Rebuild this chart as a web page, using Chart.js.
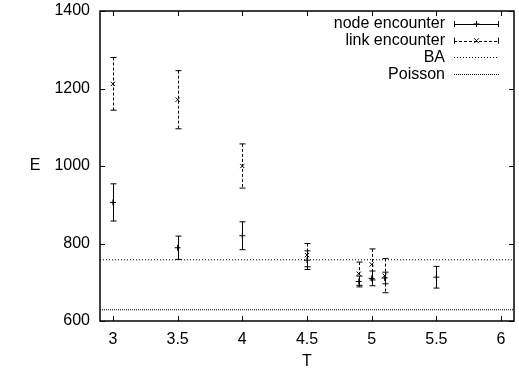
<!DOCTYPE html>
<html>
<head>
<meta charset="utf-8">
<script src="https://cdn.jsdelivr.net/npm/chart.js@4.4.0/dist/chart.umd.min.js"></script>
<style>
  html, body { margin: 0; padding: 0; background: #fff; }
  #wrap { width: 519px; height: 372px; }
</style>
</head>
<body>
<div id="wrap"><canvas id="chart"></canvas></div>
<script>
// data
const nodeT = [3, 3.5, 4, 4.5, 4.9, 5, 5.1, 5.5];
const nodeE = [906, 789, 820, 757, 702, 710, 711, 713];
const nodeErr = [48, 30, 36, 24, 14, 19, 15, 28];

const linkT = [3, 3.5, 4, 4.5, 4.9, 5, 5.1];
const linkE = [1212, 1171, 1000, 770, 722, 746, 717];
const linkErr = [68, 75, 57, 30, 30, 40, 44];

const baLevel = 758;
const poissonLevel = 629;

const xTicks = [3, 3.5, 4, 4.5, 5, 5.5, 6];
const yTicks = [600, 800, 1000, 1200, 1400];
const xMin = 2.9, xMax = 6.1;
const yMin = 600, yMax = 1400;

const FONT = '"Liberation Sans", Arial, Helvetica, sans-serif';

function pts(xs, ys) {
  return xs.map((x, i) => ({ x: x, y: ys[i] }));
}

// error bars, frame, inward ticks, axis titles, legend
const gnuplotLook = {
  id: 'gnuplotLook',
  afterDatasetsDraw(chart) {
    const ctx = chart.ctx;
    const xs = chart.scales.x, ys = chart.scales.y;
    const a = chart.chartArea;

    // error bars
    chart.data.datasets.forEach(ds => {
      if (!ds.err) return;
      ctx.save();
      ctx.strokeStyle = '#000';
      ctx.lineWidth = 1;
      ds.data.forEach((p, i) => {
        const px = Math.round(xs.getPixelForValue(p.x)) + 0.5;
        const top = ys.getPixelForValue(p.y + ds.err[i]);
        const bot = ys.getPixelForValue(p.y - ds.err[i]);
        ctx.setLineDash(ds.errDash || []);
        ctx.beginPath();
        ctx.moveTo(px, top);
        ctx.lineTo(px, bot);
        ctx.stroke();
        ctx.setLineDash([]);
        ctx.beginPath();
        ctx.moveTo(px - 3, top); ctx.lineTo(px + 3, top);
        ctx.moveTo(px - 3, bot); ctx.lineTo(px + 3, bot);
        ctx.stroke();
      });
      ctx.restore();
    });

    // frame
    ctx.save();
    ctx.strokeStyle = '#000';
    ctx.lineWidth = 1.5;
    ctx.strokeRect(a.left, a.top, a.right - a.left, a.bottom - a.top);

    // inward ticks on all four sides
    ctx.lineWidth = 1;
    ctx.beginPath();
    xTicks.forEach(v => {
      const px = Math.round(xs.getPixelForValue(v)) + 0.5;
      ctx.moveTo(px, a.bottom); ctx.lineTo(px, a.bottom - 5);
      ctx.moveTo(px, a.top); ctx.lineTo(px, a.top + 5);
    });
    yTicks.forEach(v => {
      const py = Math.round(ys.getPixelForValue(v)) + 0.5;
      ctx.moveTo(a.left, py); ctx.lineTo(a.left + 5, py);
      ctx.moveTo(a.right, py); ctx.lineTo(a.right - 5, py);
    });
    ctx.stroke();

    // axis titles
    ctx.fillStyle = '#000';
    ctx.font = '16px ' + FONT;
    ctx.textAlign = 'center';
    ctx.textBaseline = 'middle';
    ctx.fillText('E', 35, (a.top + a.bottom) / 2);
    ctx.fillText('T', (a.left + a.right) / 2, 362);

    // legend (text right-aligned, sample to the right)
    const rows = [
      { label: 'node encounter', dash: [], caps: true, mark: 'plus' },
      { label: 'link encounter', dash: [3, 2], caps: true, mark: 'x' },
      { label: 'BA', dash: [1, 2], caps: false },
      { label: 'Poisson', dash: [1, 1], caps: false }
    ];
    const textRight = 445, s0 = 454, s1 = 499;
    rows.forEach((r, i) => {
      const y = 24 + i * 16.7;
      ctx.textAlign = 'right';
      ctx.fillText(r.label, textRight, y);
      ctx.beginPath();
      ctx.setLineDash(r.dash);
      ctx.lineWidth = 1;
      ctx.moveTo(s0, Math.round(y) + 0.5);
      ctx.lineTo(s1, Math.round(y) + 0.5);
      ctx.stroke();
      ctx.setLineDash([]);
      if (r.caps) {
        ctx.beginPath();
        ctx.moveTo(s0 + 0.5, y - 3); ctx.lineTo(s0 + 0.5, y + 3);
        ctx.moveTo(s1 - 0.5, y - 3); ctx.lineTo(s1 - 0.5, y + 3);
        const m = (s0 + s1) / 2;
        if (r.mark === 'plus') {
          ctx.moveTo(m - 3, y); ctx.lineTo(m + 3, y);
          ctx.moveTo(m, y - 3); ctx.lineTo(m, y + 3);
        } else {
          ctx.moveTo(m - 2.5, y - 2.5); ctx.lineTo(m + 2.5, y + 2.5);
          ctx.moveTo(m - 2.5, y + 2.5); ctx.lineTo(m + 2.5, y - 2.5);
        }
        ctx.stroke();
      }
    });
    ctx.restore();
  }
};

new Chart(document.getElementById('chart'), {
  type: 'scatter',

  data: {
    datasets: [{
      label: 'node encounter',
      data: pts(nodeT, nodeE),
      err: nodeErr,
      pointStyle: 'cross',
      pointRadius: 3,
      pointBorderWidth: 1,
      borderColor: '#000',
      backgroundColor: '#000'
    }, {
      label: 'link encounter',
      data: pts(linkT, linkE),
      err: linkErr,
      errDash: [3, 2],
      pointStyle: 'crossRot',
      pointRadius: 3,
      pointBorderWidth: 1,
      borderColor: '#000',
      backgroundColor: '#000'
    }, {
      label: 'BA',
      type: 'line',
      data: [{ x: xMin, y: baLevel }, { x: xMax, y: baLevel }],
      borderColor: '#000',
      borderWidth: 1,
      borderDash: [1, 2],
      pointRadius: 0
    }, {
      label: 'Poisson',
      type: 'line',
      data: [{ x: xMin, y: poissonLevel }, { x: xMax, y: poissonLevel }],
      borderColor: '#000',
      borderWidth: 1,
      borderDash: [1, 1],
      pointRadius: 0
    }]
  },

  options: {
    responsive: true,
    maintainAspectRatio: false,
    animation: false,
    layout: { padding: { top: 11, right: 1, left: 0, bottom: 0 } },

    plugins: {
      legend: { display: false },
      tooltip: { enabled: false }
    },

    scales: {
      x: {
        type: 'linear',
        min: xMin,
        max: xMax,
        grid: { display: false, drawTicks: false },
        border: { display: false },
        afterBuildTicks: s => { s.ticks = xTicks.map(v => ({ value: v })); },
        afterFit: s => { s.height = 51; s.paddingLeft = 0; s.paddingRight = 0; },
        ticks: {
          color: '#000',
          padding: 9,
          autoSkip: false,
          maxRotation: 0,
          font: { family: FONT, size: 16 },
          callback: v => String(v)
        }
      },

      y: {
        min: yMin,
        max: yMax,
        grid: { display: false, drawTicks: false },
        border: { display: false },
        afterBuildTicks: s => { s.ticks = yTicks.map(v => ({ value: v })); },
        afterFit: s => { s.width = 100; s.paddingTop = 0; s.paddingBottom = 0; },
        ticks: {
          color: '#000',
          padding: 10,
          font: { family: FONT, size: 16 },
          callback: v => String(v)
        }
      }
    }
  },

  plugins: [gnuplotLook]
});
</script>
</body>
</html>
